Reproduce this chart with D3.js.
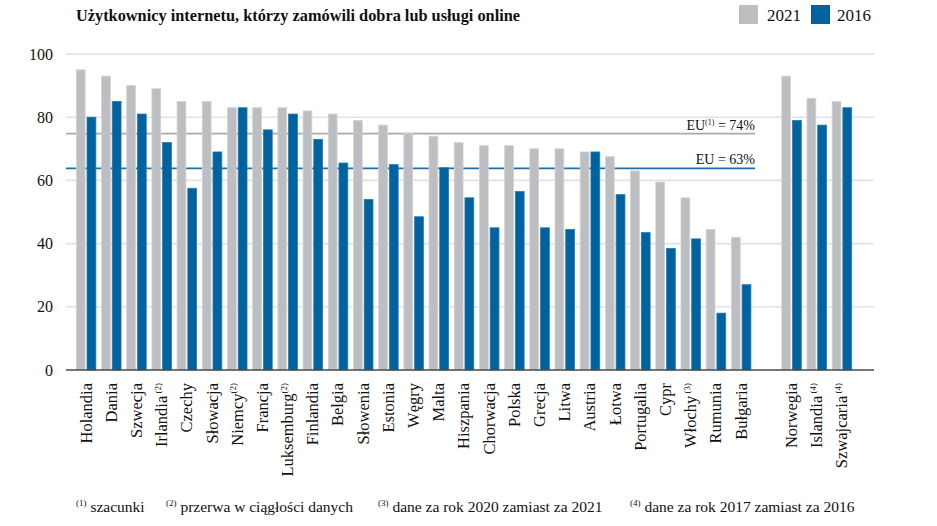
<!DOCTYPE html>
<html><head><meta charset="utf-8">
<script src="https://cdn.jsdelivr.net/npm/d3@7"></script>
<style>
html,body{margin:0;padding:0;background:#fff;}
svg{display:block;}
svg text{font-family:"Liberation Serif","DejaVu Serif",serif;}
</style></head>
<body>
<svg id="chart" width="937" height="526"></svg>
<script>
const countries = ["Holandia","Dania","Szwecja","Irlandia","Czechy","Słowacja","Niemcy","Francja","Luksemburg","Finlandia","Belgia","Słowenia","Estonia","Węgry","Malta","Hiszpania","Chorwacja","Polska","Grecja","Litwa","Austria","Łotwa","Portugalia","Cypr","Włochy","Rumunia","Bułgaria","","Norwegia","Islandia","Szwajcaria"];
const notes = ["","",""," (2)","","","(2)","","(2)","","","","","","","","","","","","","","",""," (3)","","","",""," (4)"," (4)"];
const values2021 = [95,93,90,89,85,85,83,83,83,82,81,79,77.5,75,74,72,71,71,70,70,69,67.5,63,59.5,54.5,44.5,42,null,93,86,85];
const values2016 = [80,85,81,72,57.5,69,83,76,81,73,65.5,54,65,48.5,64,54.5,45,56.5,45,44.5,69,55.5,43.5,38.5,41.5,18,27,null,79,77.5,83];
const series = ["2021","2016"];
const yTicks = [0,20,40,60,80,100];
const euLines = [74.8, 63.8];
const euLabels = [["EU","(1)"," = 74%"],["EU",""," = 63%"]];
const footnotes = [["(1)","szacunki"],["(2)","przerwa w ciągłości danych"],["(3)","dane za rok 2020 zamiast za 2021"],["(4)","dane za rok 2017 zamiast za 2016"]];
const titleText = "Użytkownicy internetu, którzy zamówili dobra lub usługi online";

const FONT = "Liberation Serif, DejaVu Serif, serif";
const colors = {"2021":"#bdbec2","2016":"#00629e"};
const strokes = {"2021":"#d3d4d7","2016":"#2a7cb3"};

const svg = d3.select("#chart");
const y = d3.scaleLinear().domain([0,100]).range([370,54]);
const x = d3.scaleBand().domain(d3.range(countries.length)).range([76,852]).paddingInner(0.2).paddingOuter(0);
const xi = d3.scaleBand().domain(series).range([0,x.bandwidth()]).paddingInner(0.12);

// gridlines
svg.append("g").selectAll("line").data(yTicks.filter(d=>d>0)).join("line")
  .attr("x1",66).attr("x2",874).attr("y1",d=>y(d)).attr("y2",d=>y(d))
  .attr("stroke","#e2e2e2").attr("stroke-width",1.6);

// y axis labels
const yAxis = d3.axisLeft(y).tickValues(yTicks).tickSize(0).tickPadding(0).tickFormat(d3.format("d"));
const ga = svg.append("g").attr("transform","translate(53,0)").call(yAxis);
ga.attr("font-family",FONT).attr("font-size",16);
ga.select(".domain").remove();
ga.selectAll("text").attr("font-family",FONT).attr("font-size",16).attr("fill","#111");

// EU lines (behind bars)
const euColors = ["#a9a9ab","#1d6fab"];
svg.append("g").selectAll("line").data(euLines).join("line")
  .attr("x1",66).attr("x2",755).attr("y1",d=>y(d)).attr("y2",d=>y(d))
  .attr("stroke",(d,i)=>euColors[i]).attr("stroke-width",1.6);

// bars
const groups = svg.append("g").selectAll("g").data(countries.map((c,i)=>({i,v:[values2021[i],values2016[i]]})).filter(d=>countries[d.i]!==""))
  .join("g").attr("transform",d=>`translate(${x(d.i)},0)`);
groups.selectAll("rect").data(d=>series.map((s,k)=>({s,v:d.v[k]}))).join("rect")
  .attr("x",d=>xi(d.s)+0.3).attr("width",xi.bandwidth()-0.6)
  .attr("y",d=>y(d.v)).attr("height",d=>y(0)-y(d.v))
  .attr("fill",d=>colors[d.s]).attr("stroke",d=>strokes[d.s]).attr("stroke-width",0.8);

// axis baseline
svg.append("line").attr("x1",66).attr("x2",874).attr("y1",y(0)).attr("y2",y(0))
  .attr("stroke","#4a4a4a").attr("stroke-width",1.6);

// EU labels
euLabels.forEach((lab,i)=>{
  const t = svg.append("text").attr("x",755).attr("y",y(euLines[i])-4)
    .attr("text-anchor","end").attr("font-family",FONT).attr("font-size",14).attr("fill","#111");
  t.append("tspan").text(lab[0]);
  if(lab[1]){ t.append("tspan").attr("font-size",8).attr("dy",-5).text(lab[1]); t.append("tspan").attr("dy",5).text(lab[2]); }
  else t.append("tspan").text(lab[2]);
});

// x labels
const xl = svg.append("g").selectAll("text").data(countries.map((c,i)=>({c,i})).filter(d=>d.c!==""))
  .join("text")
  .attr("transform",d=>`translate(${x(d.i)+x.bandwidth()/2},383) rotate(-90)`)
  .attr("text-anchor","end").attr("dy","0.33em").attr("font-family",FONT).attr("font-size",16.5).attr("fill","#111");
xl.append("tspan").text(d=>d.c);
xl.filter(d=>notes[d.i]!=="").append("tspan").attr("font-size",9).attr("dy","-0.7em").text(d=>notes[d.i]).style("white-space","pre");

// title
svg.append("text").attr("x",76).attr("y",21).attr("font-family",FONT).attr("font-size",16).attr("font-weight","bold")
  .attr("fill","#111").attr("textLength",444).attr("lengthAdjust","spacingAndGlyphs").text(titleText);

// legend
const legX = [739,811], legTX = [767,837];
series.forEach((s,i)=>{
  svg.append("rect").attr("x",legX[i]).attr("y",5).attr("width",19).attr("height",19).attr("fill",colors[s]);
  svg.append("text").attr("x",legTX[i]).attr("y",21).attr("font-family",FONT).attr("font-size",17).attr("fill","#111").text(s);
});

// footnotes
const fnX = [76,166,378,630];
footnotes.forEach((f,i)=>{
  const t = svg.append("text").attr("x",fnX[i]).attr("y",512).attr("font-family",FONT).attr("font-size",15.5).attr("fill","#111");
  t.append("tspan").attr("font-size",9).attr("dy",-6).text(f[0]);
  t.append("tspan").attr("dy",6).text(" "+f[1]);
});
</script>
</body></html>
